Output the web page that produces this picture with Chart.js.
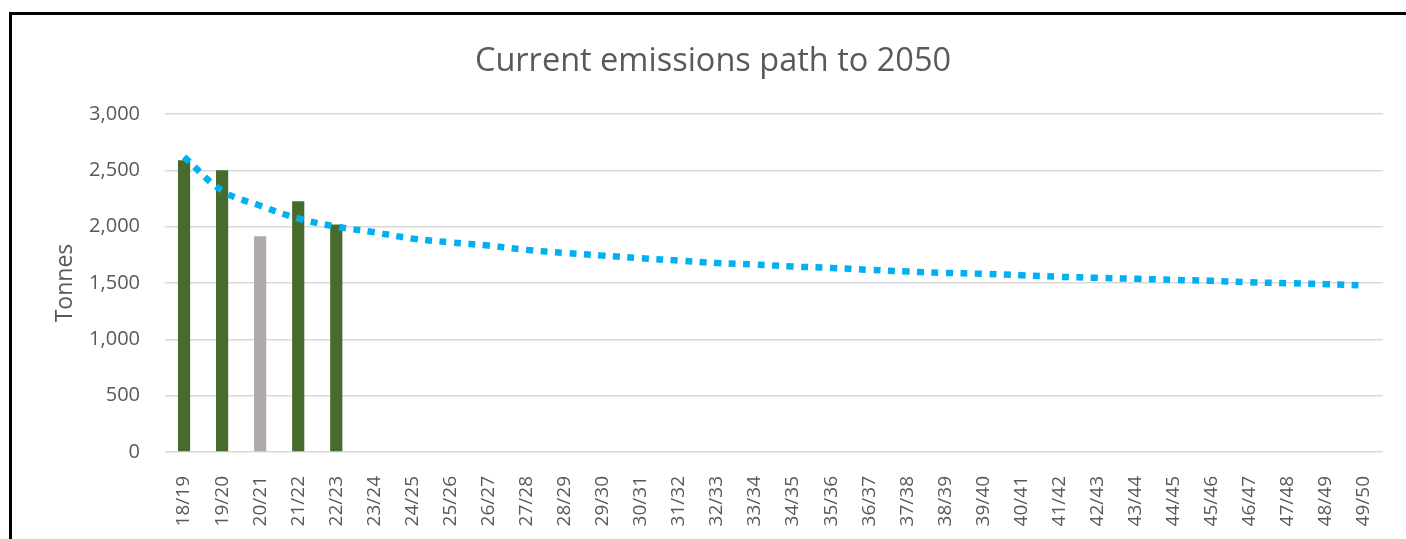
<!DOCTYPE html>
<html>
<head>
<meta charset="utf-8">
<script src="https://cdn.jsdelivr.net/npm/chart.js@4/dist/chart.umd.min.js"></script>
<style>
    body { margin: 0; background: #fff; overflow: hidden; }
    #frame {
        position: absolute;
        left: 9px;
        top: 12px;
        width: 1420px;
        height: 540px;
        border-top: 3px solid #000;
        border-left: 3px solid #000;
    }
    #chartBox { position: absolute; left: 0; top: 0; width: 1402px; height: 524px; }
</style>
</head>
<body>
<div id="frame">
    <div id="chartBox"><canvas id="emissionsChart"></canvas></div>
</div>
<script>
// Financial years
const years = ['18/19', '19/20', '20/21', '21/22', '22/23', '23/24', '24/25', '25/26',
    '26/27', '27/28', '28/29', '29/30', '30/31', '31/32', '32/33', '33/34', '34/35',
    '35/36', '36/37', '37/38', '38/39', '39/40', '40/41', '41/42', '42/43', '43/44',
    '44/45', '45/46', '46/47', '47/48', '48/49', '49/50'];

// Measured emissions (tonnes), only the first five years have data
const actualEmissions = [2590, 2500, 1915, 2225, 2020];

// Bar colours: 20/21 shown in grey
const barColours = ['#476a2d', '#476a2d', '#aeaaaa', '#476a2d', '#476a2d'];

// Trend path
const trendPath = [2620, 2320, 2186, 2073, 2000, 1950, 1894, 1861, 1832, 1794, 1767,
    1743, 1720, 1699, 1677, 1664, 1646, 1634, 1617, 1602, 1590, 1581, 1569, 1555,
    1546, 1537, 1528, 1519, 1507, 1498, 1490, 1478];

const yTicks = [0, 500, 1000, 1500, 2000, 2500, 3000];

const textGrey = '#595959';
const fontFamily = '"Open Sans", sans-serif';

const ctx = document.getElementById('emissionsChart').getContext('2d');

new Chart(ctx, {
    data: {
        labels: years,
        datasets: [{
            type: 'line',
            label: 'Trend',
            data: trendPath,
            borderColor: '#00b0f0',
            borderWidth: 6.5,
            borderDash: [7, 7.5],
            borderCapStyle: 'butt',
            pointRadius: 0,
            tension: 0.4,
            fill: false,
            order: 0
        },
        {
            type: 'bar',
            label: 'Emissions',
            data: actualEmissions,
            backgroundColor: barColours,
            categoryPercentage: 1,
            barPercentage: 0.32,
            order: 1
        }]
    },
    options: {
        responsive: true,
        maintainAspectRatio: false,
        animation: false,
        layout: {
            padding: 0
        },
        plugins: {
            legend: { display: false },
            tooltip: { enabled: false },
            title: {
                display: true,
                text: 'Current emissions path to 2050',
                color: textGrey,
                font: { family: fontFamily, size: 32.5, weight: 'normal' },
                padding: { top: 27, bottom: 33 }
            }
        },
        scales: {
            y: {
                min: 0,
                max: 3000,
                afterBuildTicks: function (scale) {
                    scale.ticks = yTicks.map(v => ({ value: v }));
                },
                afterFit: function (scale) {
                    scale.width = 153;
                },
                border: { display: false },
                grid: {
                    color: '#d9d9d9',
                    lineWidth: 1.5,
                    drawTicks: false
                },
                ticks: {
                    color: textGrey,
                    padding: 25,
                    font: { family: fontFamily, size: 20 },
                    callback: function (value) {
                        return value.toLocaleString('en-GB');
                    }
                },
                title: {
                    display: true,
                    text: 'Tonnes',
                    color: textGrey,
                    font: { family: fontFamily, size: 23 },
                    padding: { top: 40 }
                }
            },
            // empty right margin so the title stays centred on the whole box
            yRight: {
                position: 'right',
                display: true,
                afterFit: function (scale) {
                    scale.width = 31;
                },
                border: { display: false },
                grid: { drawOnChartArea: false, drawTicks: false },
                ticks: { display: false }
            },
            x: {
                afterFit: function (scale) {
                    scale.height = 87;
                },
                border: { display: false },
                grid: { display: false },
                ticks: {
                    color: textGrey,
                    padding: 16,
                    minRotation: 90,
                    maxRotation: 90,
                    autoSkip: false,
                    font: { family: fontFamily, size: 19 }
                }
            }
        }
    }
});
</script>
</body>
</html>
